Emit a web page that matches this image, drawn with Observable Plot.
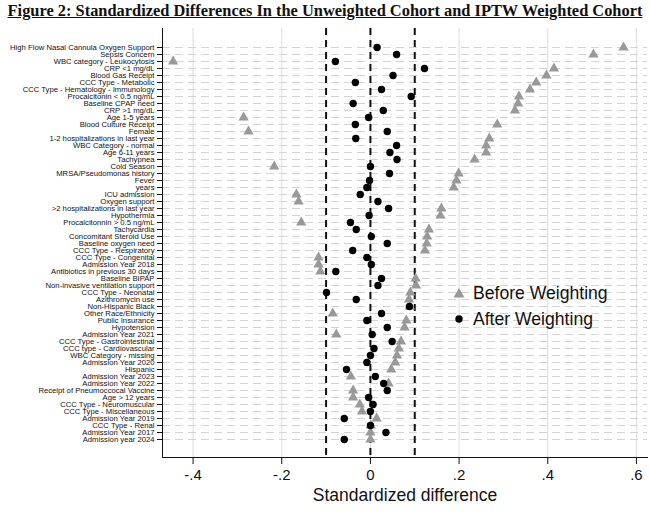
<!DOCTYPE html>
<html><head><meta charset="utf-8">
<script src="https://cdn.jsdelivr.net/npm/d3@7"></script>
<script src="https://cdn.jsdelivr.net/npm/@observablehq/plot@0.6"></script>
<style>
body{margin:0;background:#fff;}
#wrap{position:relative;width:650px;height:513px;overflow:hidden;background:#fff;}
#title{height:25px;line-height:22px;text-align:center;font-family:"Liberation Serif","DejaVu Serif",serif;font-weight:bold;font-size:16.4px;text-decoration:underline;color:#111;white-space:nowrap;}
#legend{position:absolute;left:453px;top:280px;font-family:"Liberation Sans",Arial,sans-serif;font-size:17.6px;color:#111;}
#legend div{height:26px;display:flex;align-items:center;}
#legend svg{margin-right:8px;}
</style>
</head><body>
<div id="wrap">
<div id="title">Figure 2: Standardized Differences In the Unweighted Cohort and IPTW Weighted Cohort</div>
<div id="chart"></div>
<div id="legend"></div>
</div>
<script>
const categories = [
"High Flow Nasal Cannula Oxygen Support","Sepsis Concern","WBC category - Leukocytosis","CRP <1 mg/dL","Blood Gas Receipt",
"CCC Type - Metabolic","CCC Type - Hematology - Immunology","Procalcitonin < 0.5 ng/mL","Baseline CPAP need","CRP >1 mg/dL",
"Age 1-5 years","Blood Culture Receipt","Female","1-2 hospitalizations in last year","WBC Category - normal",
"Age 6-11 years","Tachypnea","Cold Season","MRSA/Pseudomonas history","Fever",
"years","ICU admission","Oxygen support",">2 hospitalizations in last year","Hypothermia",
"Procalcitonnin > 0.5 ng/mL","Tachycardia","Concomitant Steroid Use","Baseline oxygen need","CCC Type - Respiratory",
"CCC Type - Congenital","Admission Year 2018","Antibiotics in previous 30 days","Baseline BIPAP","Non-invasive ventilation support",
"CCC Type - Neonatal","Azithromycin use","Non-Hispanic Black","Other Race/Ethnicity","Public Insurance",
"Hypotension","Admission Year 2021","CCC Type - Gastrointestinal","CCC type - Cardiovascular","WBC Category - missing",
"Admission Year 2020","Hispanic","Admission Year 2023","Admission Year 2022","Receipt of Pneumoccocal Vaccine",
"Age > 12 years","CCC Type - Neuromuscular","CCC Type - Miscellaneous","Admission Year 2019","CCC Type - Renal",
"Admission Year 2017","Admission year 2024"
];
const beforeValues = [
0.571,0.503,-0.445,0.414,0.397,
0.374,0.360,0.335,0.333,0.326,
-0.286,0.286,-0.275,0.268,0.261,
0.261,0.235,-0.217,0.199,0.194,
0.188,-0.167,-0.162,0.160,0.158,
-0.156,0.132,0.128,0.127,0.123,
-0.117,-0.117,-0.113,0.102,0.103,
0.090,0.087,0.089,-0.085,0.081,
0.077,-0.077,0.069,0.064,0.060,
0.056,0.047,-0.044,0.041,-0.039,
-0.039,-0.024,-0.019,0.014,0.001,
0.000,0.000
];
const afterValues = [
0.015,0.059,-0.079,0.122,0.051,
-0.034,0.025,0.092,-0.039,0.029,
-0.004,-0.034,0.038,-0.033,0.059,
0.044,0.060,0.000,0.043,-0.002,
-0.008,-0.023,0.017,0.041,-0.003,
-0.045,-0.032,0.002,0.038,-0.040,
-0.008,0.002,-0.078,0.025,0.017,
-0.099,-0.032,0.088,0.025,-0.008,
0.038,0.004,0.049,0.008,0.000,
-0.008,-0.054,0.011,0.030,0.038,
-0.004,0.006,0.000,-0.059,0.000,
0.035,-0.059
];
const xTicks = [-0.4,-0.2,0,0.2,0.4,0.6];
const refLines = [-0.1,0,0.1];
const seriesNames = ["Before Weighting","After Weighting"];

const before = categories.map((c,i)=>({cat:c, v:beforeValues[i]}));
const after = categories.map((c,i)=>({cat:c, v:afterValues[i]}));
const fmt = d => d === 0 ? "0" : (d < 0 ? "-" : "") + Math.abs(d).toFixed(1).replace(/^0/, "");

const chart = Plot.plot({
  width:650, height:488,
  marginLeft:162, marginRight:3, marginTop:3, marginBottom:56,
  style:{fontFamily:"'Liberation Sans', Arial, sans-serif", color:"#111", background:"#fff"},
  x:{domain:[-0.469,0.625]},
  y:{type:"point", domain:categories, padding:1.38},
  marks:[
    Plot.gridX(xTicks,{stroke:"#dcdcdc", strokeOpacity:1}),
    Plot.gridY(categories,{stroke:"#d4d4d4", strokeOpacity:1, strokeDasharray:"8,5"}),
    Plot.ruleX(refLines,{stroke:"#111", strokeWidth:2, strokeDasharray:"7,5"}),
    Plot.dot(before,{x:"v", y:"cat", symbol:"triangle", fill:"#999", r:3.8}),
    Plot.dot(after,{x:"v", y:"cat", symbol:"circle", fill:"#000", r:3.7}),
    Plot.frame({anchor:"left", stroke:"#111"}),
    Plot.frame({anchor:"bottom", stroke:"#111"}),
    Plot.axisY({tickSize:5, tickPadding:3, fontSize:7.7, label:null}),
    Plot.axisX({ticks:xTicks, tickFormat:fmt, tickSize:7, tickPadding:5, fontSize:15, label:null}),
    Plot.text(["Standardized difference"],{frameAnchor:"bottom", dy:43, fontSize:17.5})
  ]
});
document.getElementById("chart").appendChild(chart);

const legend = document.getElementById("legend");
seriesNames.forEach((name,i)=>{
  const row = document.createElement("div");
  row.innerHTML = (i===0
    ? '<svg width="12" height="12"><path d="M6,1L11.5,10.5L0.5,10.5Z" fill="#999"/></svg>'
    : '<svg width="12" height="12"><circle cx="6" cy="6" r="3.7" fill="#000"/></svg>') + '<span>'+name+'</span>';
  legend.appendChild(row);
});
</script>
</body></html>
